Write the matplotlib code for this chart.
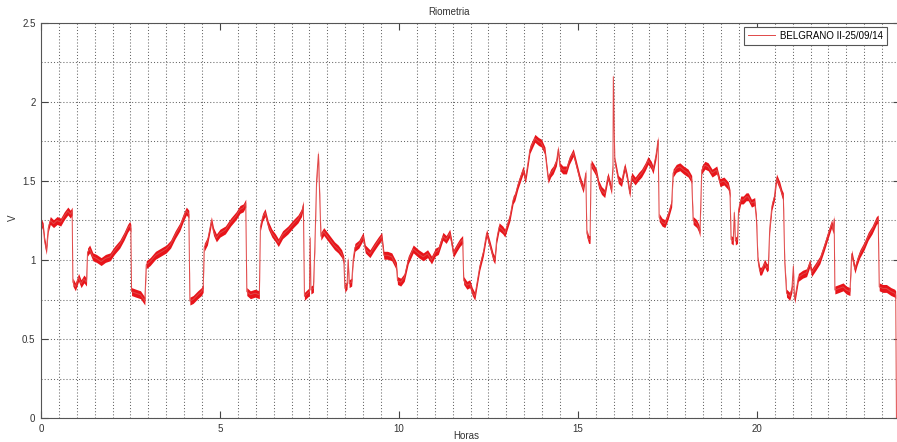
import numpy as np
import matplotlib.pyplot as plt

# Riometer voltage over the day (hours, volts)
horas = [
    0.00, 0.06, 0.10, 0.15, 0.20, 0.26, 0.35, 0.45, 0.55, 0.65, 0.75, 0.82, 0.87,
    0.89, 0.96, 1.05, 1.12, 1.20, 1.27, 1.30, 1.36, 1.45, 1.55, 1.68, 1.80, 1.93,
    2.05, 2.20, 2.32, 2.42, 2.48, 2.51, 2.53, 2.65, 2.78, 2.90, 2.94, 3.05, 3.20,
    3.35, 3.50, 3.62, 3.75, 3.88, 3.98, 4.06, 4.13, 4.16, 4.25, 4.38, 4.48, 4.53,
    4.56, 4.65, 4.72, 4.76, 4.82, 4.90, 5.00, 5.15, 5.30, 5.45, 5.56, 5.65, 5.72,
    5.75, 5.85, 5.98, 6.10, 6.13, 6.19, 6.26, 6.35, 6.45, 6.55, 6.63, 6.75, 6.90,
    7.05, 7.18, 7.28, 7.33, 7.36, 7.45, 7.50, 7.52, 7.54, 7.61, 7.65, 7.70, 7.75,
    7.79, 7.82, 7.90, 8.00, 8.10, 8.20, 8.30, 8.40, 8.46, 8.49, 8.55, 8.58, 8.61,
    8.68, 8.72, 8.77, 8.88, 9.00, 9.06, 9.19, 9.30, 9.42, 9.52, 9.58, 9.68, 9.80,
    9.89, 9.93, 9.96, 10.05, 10.15, 10.26, 10.40, 10.55, 10.68, 10.80, 10.91,
    11.02, 11.10, 11.23, 11.32, 11.42, 11.48, 11.52, 11.62, 11.70, 11.78, 11.81,
    11.90, 11.98, 12.05, 12.12, 12.20, 12.26, 12.36, 12.45, 12.55, 12.63, 12.68,
    12.73, 12.80, 12.90, 12.96, 13.03, 13.10, 13.19, 13.24, 13.32, 13.38, 13.47,
    13.53, 13.57, 13.66, 13.80, 13.90, 13.98, 14.08, 14.13, 14.17, 14.24, 14.31,
    14.40, 14.45, 14.50, 14.58, 14.68, 14.76, 14.87, 14.96, 15.06, 15.15, 15.22,
    15.25, 15.30, 15.34, 15.37, 15.45, 15.52, 15.58, 15.66, 15.75, 15.84, 15.94,
    15.98, 15.99, 16.01, 16.03, 16.13, 16.22, 16.31, 16.38, 16.45, 16.50, 16.60,
    16.70, 16.78, 16.88, 16.96, 17.05, 17.10, 17.18, 17.24, 17.27, 17.35, 17.43,
    17.52, 17.62, 17.66, 17.75, 17.85, 17.95, 18.08, 18.18, 18.22, 18.32, 18.38,
    18.41, 18.46, 18.55, 18.64, 18.75, 18.88, 18.97, 19.08, 19.20, 19.25, 19.28,
    19.34, 19.37, 19.40, 19.46, 19.49, 19.55, 19.62, 19.70, 19.76, 19.85, 19.94,
    19.99, 20.03, 20.08, 20.13, 20.22, 20.28, 20.32, 20.36, 20.42, 20.49, 20.55,
    20.64, 20.70, 20.74, 20.78, 20.83, 20.92, 20.98, 21.02, 21.04, 21.06, 21.16,
    21.28, 21.39, 21.48, 21.53, 21.65, 21.76, 21.88, 21.99, 22.09, 22.13, 22.16,
    22.18, 22.30, 22.41, 22.50, 22.60, 22.65, 22.74, 22.80, 22.88, 23.00, 23.11,
    23.22, 23.34, 23.39, 23.42, 23.52, 23.62, 23.75, 23.85, 23.88, 23.90,
]
voltios = [
    1.24, 1.21, 1.12, 1.06, 1.20, 1.25, 1.23, 1.25, 1.24, 1.28, 1.31, 1.29, 1.31,
    0.86, 0.83, 0.89, 0.85, 0.88, 0.86, 1.05, 1.07, 1.02, 1.01, 0.99, 1.01, 1.02,
    1.06, 1.10, 1.15, 1.20, 1.22, 1.20, 0.80, 0.79, 0.78, 0.74, 0.97, 0.99, 1.03,
    1.05, 1.07, 1.10, 1.16, 1.21, 1.27, 1.31, 1.29, 0.74, 0.75, 0.78, 0.80, 0.82,
    1.08, 1.12, 1.20, 1.25, 1.18, 1.14, 1.17, 1.19, 1.24, 1.28, 1.32, 1.33, 1.36,
    0.80, 0.78, 0.79, 0.78, 1.21, 1.27, 1.30, 1.22, 1.17, 1.14, 1.11, 1.16, 1.19,
    1.23, 1.26, 1.30, 1.35, 0.77, 0.79, 0.80, 1.14, 0.81, 0.82, 1.08, 1.51, 1.67,
    1.38, 1.15, 1.18, 1.15, 1.12, 1.09, 1.07, 1.04, 1.00, 0.82, 0.84, 1.00, 0.85,
    0.86, 1.00, 1.08, 1.10, 1.15, 1.07, 1.04, 1.08, 1.12, 1.15, 1.03, 1.03, 1.02,
    0.98, 0.96, 0.87, 0.86, 0.89, 1.00, 1.07, 1.04, 1.02, 1.04, 1.00,
    1.05, 1.06, 1.15, 1.13, 1.17, 1.10, 1.04, 1.08, 1.11, 1.13, 0.87,
    0.84, 0.85, 0.80, 0.77, 0.88, 0.96, 1.05, 1.17, 1.09, 1.02, 1.00,
    1.13, 1.21, 1.19, 1.17, 1.22, 1.27, 1.38, 1.40, 1.47, 1.51, 1.57,
    1.51, 1.56, 1.70, 1.77, 1.75, 1.74, 1.69, 1.59, 1.51, 1.55, 1.57,
    1.62, 1.70, 1.59, 1.57, 1.57, 1.63, 1.68, 1.60, 1.51, 1.45, 1.55,
    1.17, 1.13, 1.13, 1.61, 1.58, 1.55, 1.48, 1.44, 1.42, 1.53, 1.44,
    1.60, 2.16, 1.90, 1.63, 1.51, 1.49, 1.59, 1.52, 1.42, 1.53, 1.50,
    1.53, 1.55, 1.59, 1.63, 1.60, 1.57, 1.66, 1.76, 1.27, 1.24, 1.23,
    1.28, 1.36, 1.55, 1.58, 1.59, 1.57, 1.55, 1.51, 1.25, 1.23, 1.20,
    1.17, 1.57, 1.60, 1.59, 1.55, 1.57, 1.49, 1.50, 1.47, 1.42, 1.13,
    1.12, 1.30, 1.12, 1.13, 1.32, 1.38, 1.38, 1.40, 1.40, 1.36, 1.37,
    1.25, 1.00, 0.93, 0.93, 0.98, 0.95, 0.96, 1.20, 1.34, 1.40, 1.52,
    1.47, 1.42, 1.40, 0.98, 0.79, 0.77, 0.82, 0.96, 0.80, 0.75, 0.89,
    0.91, 0.92, 0.98, 0.92, 0.96, 1.00, 1.08, 1.16, 1.23, 1.19, 1.26,
    0.81, 0.82, 0.83, 0.81, 0.80, 1.04, 0.94, 0.99, 1.04, 1.09, 1.15,
    1.19, 1.25, 1.26, 0.83, 0.82, 0.82, 0.80, 0.79, 0.78, 0.00,
]
etiqueta = 'BELGRANO II-25/09/14'

plt.rcParams['font.family'] = ['Liberation Sans', 'DejaVu Sans']
plt.rcParams['font.size'] = 7

fig = plt.figure(figsize=(8.97, 4.42), dpi=100)
ax = fig.add_axes([41 / 897, 24 / 442, 859 / 897, 395 / 442])

h = np.array(horas)
v = np.array(voltios)
rojo = '#e8141a'
# noisy trace drawn as a thin band around the signal
ax.fill_between(h, v - 0.025, v + 0.025, color=rojo, lw=0)
ax.plot(h, v, color='#e04848', lw=0.7, label=etiqueta)

ax.set_xlim(0, 24)
ax.set_ylim(0, 2.5)
ax.set_xticks([0, 5, 10, 15, 20])
ax.set_xticklabels(['0', '5', '10', '15', '20'])
ax.set_yticks([0, 0.5, 1, 1.5, 2, 2.5])
ax.set_yticklabels(['0', '0.5', '1', '1.5', '2', '2.5'])
ax.set_xticks([m for m in np.arange(0.5, 24, 0.5) if m % 5], minor=True)
ax.set_yticks(np.arange(0.25, 2.5, 0.5), minor=True)

gris = dict(color='#666666', linestyle=(0, (1, 2)), linewidth=0.75)
ax.grid(which='minor', axis='x', **gris)
ax.grid(which='both', axis='y', **gris)
ax.set_axisbelow(True)

ax.tick_params(which='major', direction='in', length=5, width=0.8,
               top=True, right=True, colors='#444444', labelcolor='#333333',
               pad=4)
ax.tick_params(which='minor', length=0)
for s in ax.spines.values():
    s.set_color('#555555')
    s.set_linewidth(0.8)

fig.text(449 / 897, 1 - 12 / 442, 'Riometria', ha='center', va='center',
         color='#333333')
fig.text(466 / 897, 1 - 436 / 442, 'Horas', ha='center', va='center',
         color='#333333')
fig.text(13 / 897, 1 - 218 / 442, 'V', ha='center', va='center',
         rotation=90, color='#333333')

leg = ax.legend(loc='upper right', bbox_to_anchor=(887 / 897, 1 - 27 / 442),
                bbox_transform=fig.transFigure, borderaxespad=0,
                fancybox=False, framealpha=1, edgecolor='#555555',
                handlelength=2.8, borderpad=0.4, handletextpad=0.5)
leg.get_frame().set_linewidth(0.8)

fig.savefig('out.png', dpi=100)
